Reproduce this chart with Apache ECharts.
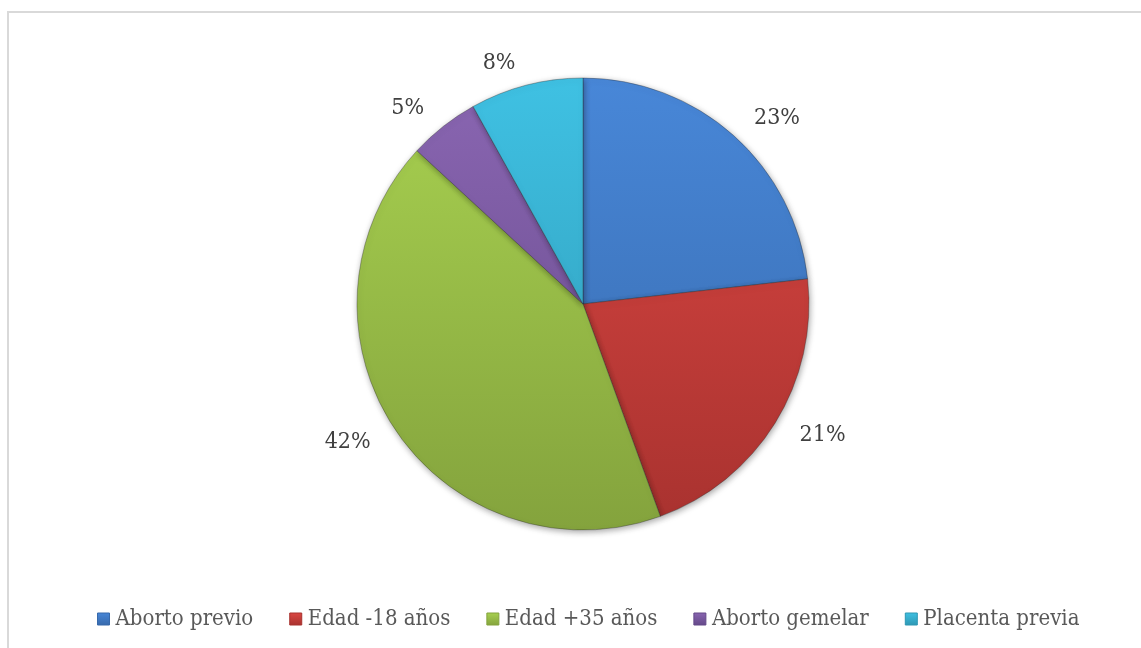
<!DOCTYPE html>
<html>
<head>
<meta charset="utf-8">
<script src="https://cdn.jsdelivr.net/npm/echarts@6/dist/echarts.min.js"></script>
<style>
  html, body { margin: 0; padding: 0; background: #ffffff; }
  #chart { width: 1141px; height: 648px; }
</style>
</head>
<body>
<div id="chart"></div>
<script>
// Factores de riesgo (porcentaje de casos)
const categories = ['Aborto previo', 'Edad -18 años', 'Edad +35 años', 'Aborto gemelar', 'Placenta previa'];
const values = [23, 21, 42, 5, 8];

// Colores por sector: tono claro arriba, oscuro abajo
const topColors = ['#4887d8', '#dc4743', '#a8d150', '#8a66b2', '#3fc1e3'];
const bottomColors = ['#3769ab', '#a8322f', '#84a33d', '#644888', '#2e97b3'];

const FONT = "'DejaVu Serif Condensed', 'DejaVu Serif', serif";
const CX = 583, CY = 304, R = 226;

function sliceFill(i) {
  return new echarts.graphic.LinearGradient(0, CY - R, 0, CY + R, [
    { offset: 0, color: topColors[i] },
    { offset: 1, color: bottomColors[i] }
  ], true);
}

function legendIcon(i) {
  return new echarts.graphic.LinearGradient(0, 0, 0, 1, [
    { offset: 0, color: topColors[i] },
    { offset: 1, color: bottomColors[i] }
  ]);
}

const chart = echarts.init(document.getElementById('chart'), null, { renderer: 'canvas' });

chart.setOption({
  backgroundColor: '#ffffff',
  animation: false,
  graphic: [{
    type: 'rect',
    shape: { x: 8, y: 12, width: 1160, height: 660 },
    style: { fill: 'none', stroke: '#d9d9d9', lineWidth: 2 },
    silent: true,
    z: -10
  }],
  legend: {
    bottom: 18,
    left: 97,
    padding: 0,
    itemWidth: 12,
    itemHeight: 12,
    itemGap: 36,
    icon: 'rect',
    textStyle: { fontFamily: FONT, fontSize: 22, color: '#595959', padding: [0, 0, 0, 1] },
    data: categories.map((name, i) => ({
      name,
      itemStyle: { color: legendIcon(i), borderColor: bottomColors[i], borderWidth: 1 }
    }))
  },
  series: [{
    type: 'pie',
    center: [CX, CY],
    radius: R,
    startAngle: 90,
    clockwise: true,
    avoidLabelOverlap: false,
    label: {
      show: true,
      position: 'outside',
      formatter: '{c}%',
      fontFamily: FONT,
      fontSize: 23,
      color: '#404040'
    },
    labelLine: { show: false, length: 23, length2: 0 },
    itemStyle: {
      borderColor: 'rgba(40,40,40,0.35)',
      borderWidth: 1,
      shadowColor: 'rgba(0,0,0,0.35)',
      shadowBlur: 6,
      shadowOffsetX: 1,
      shadowOffsetY: 2
    },
    emphasis: { disabled: true },
    data: categories.map((name, i) => ({
      name,
      value: values[i],
      itemStyle: { color: sliceFill(i) }
    }))
  }]
});
</script>
</body>
</html>
